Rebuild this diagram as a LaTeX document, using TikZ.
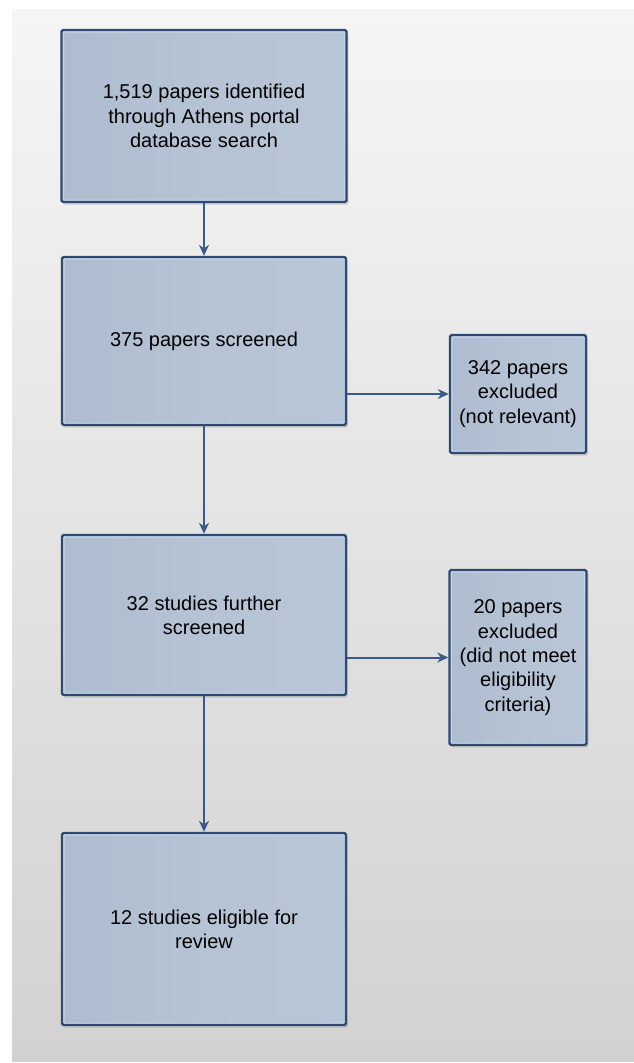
\documentclass[tikz,border=0pt]{standalone}
\usepackage{fontspec}
\setmainfont{Liberation Sans}
\usetikzlibrary{arrows.meta,shadows}
\definecolor{bgtop}{HTML}{F5F5F5}
\definecolor{bgbot}{HTML}{D2D2D2}
\definecolor{boxfill}{HTML}{B6C3D5}
\definecolor{boxleft}{HTML}{AEBCCF}
\definecolor{boxright}{HTML}{B9C6D7}
\definecolor{boxline}{HTML}{2F4A70}
\definecolor{boxhi}{HTML}{C4D3E8}
\definecolor{arrowcol}{HTML}{3B5A8A}
\tikzset{
  flowbox/.style={rectangle, draw=boxline, line width=2.4pt, rounded corners=1.5pt,
    left color=boxleft, right color=boxright, middle color=boxfill,
    align=center, inner sep=4pt, text=black,
    font=\fontsize{20}{24.3}\selectfont,
    drop shadow={shadow xshift=2pt, shadow yshift=-2.5pt, fill=black!45, opacity=0.3},
    path picture={\draw[boxhi, line width=5pt]
      (path picture bounding box.south west) rectangle (path picture bounding box.north east);}},
  flowarrow/.style={draw=arrowcol, line width=2pt, -{Stealth[length=11pt,width=10pt]}}
}
\begin{document}
\begin{tikzpicture}[x=1pt,y=-1pt]
\useasboundingbox (0,0) rectangle (634,1063);
\fill[white] (0,0) rectangle (634,1063);
\shade[top color=bgtop, bottom color=bgbot] (12,9) rectangle (634,1061);

\node[flowbox, minimum width=285pt, minimum height=172pt] (n1) at (204,116)
  {1,519 papers identified\\through Athens portal\\database search};
\node[flowbox, minimum width=284pt, minimum height=168pt] (n2) at (204,341)
  {375 papers screened};
\node[flowbox, minimum width=284pt, minimum height=160pt] (n3) at (204,615)
  {32 studies further\\screened};
\node[flowbox, minimum width=284pt, minimum height=192pt] (n4) at (204,929)
  {12 studies eligible for\\review};
\node[flowbox, minimum width=136pt, minimum height=118pt] (x1) at (518,394)
  {342 papers\\excluded\\(not relevant)};
\node[flowbox, minimum width=137pt, minimum height=175pt] (x2) at (518,657.5)
  {20 papers\\excluded\\(did not meet\\eligibility\\criteria)};

\draw[flowarrow] (n1) -- (n2);
\draw[flowarrow] (n2) -- (n3);
\draw[flowarrow] (n3) -- (n4);
\draw[flowarrow] (n2.east |- x1.west) -- (x1.west);
\draw[flowarrow] (n3.east |- x2.west) -- (x2.west);
\end{tikzpicture}
\end{document}
